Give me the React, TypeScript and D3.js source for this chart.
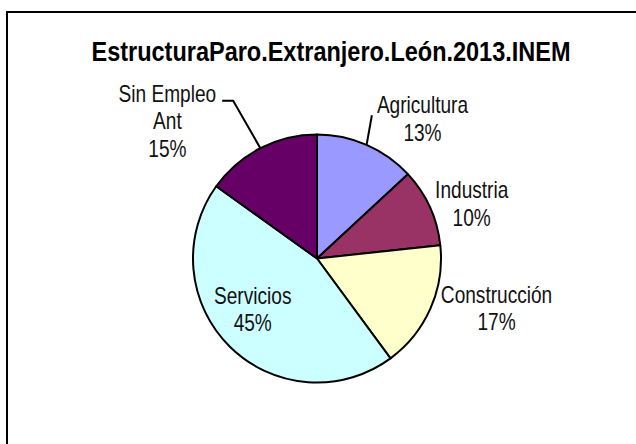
import React, { useRef, useEffect } from "react";
import * as d3 from "d3";

// data (shares of the total, in percent)
const title = "EstructuraParo.Extranjero.León.2013.INEM";
const categories = ["Agricultura", "Industria", "Construcción", "Servicios", "Sin Empleo Ant"];
const shares = [13.1, 10.2, 16.6, 45.0, 15.1];
const colors = ["#9999FF", "#993366", "#FFFFCC", "#CCFFFF", "#660066"];

// label layout: text lines, nudge from the label arc centroid, inside/outside, leader line
const labelLines = [["Agricultura"], ["Industria"], ["Construcción"], ["Servicios"], ["Sin Empleo", "Ant"]];
const labelNudge: [number, number][] = [[41, 8], [8, 12], [32, -15], [-12, -2], [-76, 6]];
const labelInside = [false, false, false, true, false];
const hasLeader = [true, false, false, false, true];

const W = 636;
const H = 444;
// no narrow face is installed, so Liberation Sans is squeezed horizontally
const FONT = "'Liberation Sans', Arial, sans-serif";
const TITLE_SX = 0.87;
const LABEL_SX = 0.83;

const App: React.FC = () => {
  const ref = useRef<SVGSVGElement | null>(null);

  useEffect(() => {
    if (!ref.current) return;
    document.body.style.overflow = "hidden";
    const svg = d3.select(ref.current);
    svg.selectAll("*").remove();

    // chart area frame: only the left and top edges are on screen
    svg.append("path")
      .attr("d", `M7,${H + 5}V12H${W + 5}`)
      .attr("fill", "none")
      .attr("stroke", "#000")
      .attr("stroke-width", 2);

    svg.append("text")
      .attr("transform", `translate(331,61) scale(${TITLE_SX},1)`)
      .attr("text-anchor", "middle")
      .style("font-family", FONT)
      .style("font-weight", "bold")
      .style("font-size", "27px")
      .text(title);

    const cx = 317;
    const cy = 258.5;
    const r = 124;

    const pie = d3.pie<number>().sort(null).value((d) => d);
    const arcs = pie(shares);
    const arc = d3.arc<d3.PieArcDatum<number>>().innerRadius(0).outerRadius(r);
    const outerArc = d3.arc<d3.PieArcDatum<number>>().innerRadius(r * 1.3).outerRadius(r * 1.3);
    const innerArc = d3.arc<d3.PieArcDatum<number>>().innerRadius(r * 0.6).outerRadius(r * 0.6);

    const g = svg.append("g").attr("transform", `translate(${cx},${cy})`);

    g.selectAll("path.slice")
      .data(arcs)
      .join("path")
      .attr("class", "slice")
      .attr("d", (d) => arc(d)!)
      .attr("fill", (_, i) => colors[i])
      .attr("stroke", "#000")
      .attr("stroke-width", 2)
      .attr("stroke-linejoin", "round")
      .append("title")
      .text((_, i) => categories[i]);

    const total = d3.sum(shares);
    const fontSize = 23;
    const lineGap = 27.5;
    const cap = fontSize * 0.716;
    const leaders = g.append("g");
    const labels = g.append("g")
      .style("font-family", FONT)
      .style("font-size", `${fontSize}px`)
      .attr("fill", "#111")
      .attr("text-anchor", "middle");

    arcs.forEach((d, i) => {
      const [bx, by] = (labelInside[i] ? innerArc : outerArc).centroid(d);
      const lx = bx + labelNudge[i][0];
      const ly = by + labelNudge[i][1];
      const lines = [...labelLines[i], `${Math.round((shares[i] / total) * 100)}%`];
      const first = ly + cap / 2 - ((lines.length - 1) * lineGap) / 2;
      const t = labels.append("text")
        .attr("transform", `translate(${lx},${first}) scale(${LABEL_SX},1)`);
      lines.forEach((s, k) => {
        t.append("tspan").attr("x", 0).attr("y", k * lineGap).text(s);
      });

      if (hasLeader[i]) {
        const mid = (d.startAngle + d.endAngle) / 2;
        const ex = Math.sin(mid) * r;
        const ey = -Math.cos(mid) * r;
        const firstLine = t.select<SVGTSpanElement>("tspan").node()!;
        const w = firstLine.getComputedTextLength() * LABEL_SX;
        let pts: [number, number][];
        if (lx < 0) {
          const endX = lx + w / 2 + 6;
          pts = [[ex, ey], [endX + 11, first - 1], [endX, first - 1]];
        } else {
          const endX = lx - w / 2 - 5;
          pts = [[ex, ey], [endX, first + 2]];
        }
        leaders.append("path")
          .attr("d", d3.line()(pts)!)
          .attr("fill", "none")
          .attr("stroke", "#000")
          .attr("stroke-width", 2);
      }
    });
  }, []);

  return (
    <svg
      ref={ref}
      width={W}
      height={H}
      style={{ position: "absolute", left: 0, top: 0, background: "#fff" }}
    />
  );
};

export default App;
